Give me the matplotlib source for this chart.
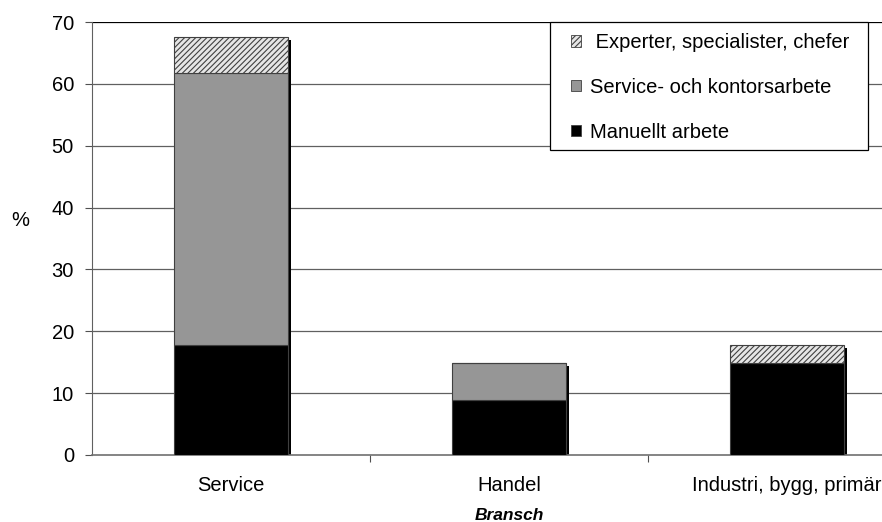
import matplotlib
matplotlib.use("Agg")
import matplotlib.pyplot as plt
import matplotlib.transforms as mtransforms
from matplotlib.patches import Patch, Rectangle
import numpy as np

plt.rcParams["font.family"] = ["Liberation Sans", "DejaVu Sans"]
plt.rcParams["hatch.color"] = "#8c8c8c"
plt.rcParams["hatch.linewidth"] = 0.8

categories = ["Service", "Handel", "Industri, bygg, primär"]
manuellt = [17.8, 8.9, 14.9]
service_kontor = [43.9, 6.0, 0.0]
experter = [5.8, 0.0, 2.9]

EDGE = "#404040"
FS = 14.5
W, H = 882, 522

fig = plt.figure(figsize=(8.82, 5.22), dpi=100)
ax = fig.add_axes([92 / W, 1 - 455 / H, 834 / W, 433 / H])

x = np.arange(len(categories))
width = 0.41
m = np.array(manuellt)
s = np.array(service_kontor)
e = np.array(experter)
total = m + s + e

# drop shadow behind each stack
shadow = mtransforms.offset_copy(ax.transData, fig=fig, x=3, y=-3, units="dots")
ax.bar(x, total, width, color="black", edgecolor="none", transform=shadow, zorder=2)

ax.bar(x, m, width, color="black", edgecolor=EDGE, linewidth=0.8, zorder=3)
ax.bar(x, s, width, bottom=m, color="#969696", edgecolor=EDGE, linewidth=0.8, zorder=3)
ax.bar(x, e, width, bottom=m + s, color="#e6e6e6", edgecolor=EDGE, linewidth=0.8,
       hatch="//////", zorder=3)

ax.set_xlim(-0.5, 2.5)
ax.set_ylim(0, 70)
ax.set_yticks(range(0, 71, 10))
ax.tick_params(axis="y", length=5, width=0.8, color="#505050", labelsize=FS, pad=8)
for yv in range(10, 71, 10):
    ax.axhline(yv, color="black" if yv == 70 else "#606060", linewidth=0.9, zorder=1)

ax.set_xticks(x)
ax.set_xticklabels(categories, fontsize=FS)
ax.set_xticks([0.5, 1.5], minor=True)
ax.tick_params(axis="x", which="major", length=0, pad=15)
ax.tick_params(axis="x", which="minor", length=5, width=0.8, color="#505050")

for side in ["top", "right"]:
    ax.spines[side].set_visible(False)
ax.spines["left"].set_color("#606060")
ax.spines["bottom"].set_color("#707070")
ax.spines["bottom"].set_linewidth(1.2)

fig.text(20 / W, 1 - 221 / H, "%", ha="center", va="center", fontsize=FS)
fig.text(509 / W, 1 - 515 / H, "Bransch", ha="center", va="center",
         fontsize=12.5, fontweight="bold", fontstyle="italic")

# legend box
fig.patches.append(Rectangle((550 / W, 1 - 150 / H), 318 / W, 128 / H,
                             transform=fig.transFigure, facecolor="white",
                             edgecolor="black", linewidth=0.9, zorder=5))
handles = [
    Patch(facecolor="#e6e6e6", edgecolor=EDGE, hatch="//////", linewidth=0.6),
    Patch(facecolor="#969696", edgecolor=EDGE, linewidth=0.6),
    Patch(facecolor="black", edgecolor=EDGE, linewidth=0.6),
]
labels = [" Experter, specialister, chefer", "Service- och kontorsarbete", "Manuellt arbete"]
leg = fig.legend(handles, labels, loc="upper left",
                 bbox_to_anchor=(560 / W, 1 - 22 / H), fontsize=FS,
                 frameon=False, handlelength=0.5, handleheight=0.5, handletextpad=0.45,
                 labelspacing=1.28, borderpad=0.55, borderaxespad=0)
leg.set_zorder(6)

fig.savefig("out.png", dpi=100)
